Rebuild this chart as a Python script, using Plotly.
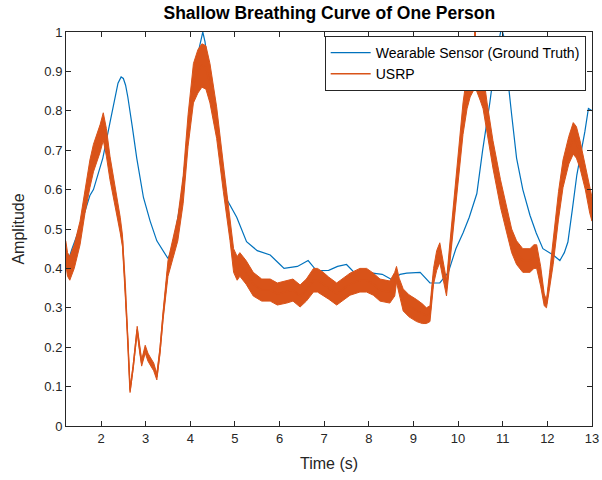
import plotly.graph_objects as go

# Wearable sensor (ground truth) breathing amplitude
sensor_t = [1.21, 1.35, 1.53, 1.75, 1.83, 2.04, 2.20, 2.30, 2.38, 2.45, 2.50, 2.55, 2.60,
            2.70, 2.80, 2.95, 3.10, 3.25, 3.50, 3.60, 3.80, 4.00, 4.10, 4.20, 4.28, 4.33,
            4.42, 4.55, 4.70, 4.82, 5.04, 5.26, 5.50, 5.79, 6.01, 6.10, 6.40, 6.64, 6.83,
            7.10, 7.30, 7.50, 7.73, 8.09, 8.30, 8.54, 8.70, 8.85, 9.15, 9.37, 9.59, 9.78,
            9.95, 10.11, 10.25, 10.42, 10.55, 10.71, 10.85, 10.93, 10.97, 11.02, 11.07,
            11.12, 11.20, 11.31, 11.45, 11.61, 11.75, 11.90, 12.13, 12.28, 12.38, 12.46,
            12.56, 12.66, 12.84, 12.92, 13.00]
sensor_amp = [0.40, 0.45, 0.505, 0.585, 0.60, 0.68, 0.77, 0.83, 0.87, 0.886, 0.882, 0.865,
              0.835, 0.76, 0.68, 0.58, 0.52, 0.47, 0.425, 0.45, 0.58, 0.80, 0.89, 0.96, 1.00,
              0.975, 0.89, 0.80, 0.68, 0.575, 0.53, 0.468, 0.445, 0.434, 0.41, 0.40, 0.405,
              0.42, 0.394, 0.395, 0.405, 0.41, 0.383, 0.388, 0.385, 0.37, 0.385, 0.388, 0.39,
              0.363, 0.363, 0.39, 0.45, 0.49, 0.53, 0.59, 0.70, 0.82, 0.94, 0.99, 1.01, 0.99,
              0.94, 0.874, 0.79, 0.68, 0.60, 0.535, 0.49, 0.45, 0.434, 0.42, 0.44, 0.467,
              0.55, 0.637, 0.747, 0.806, 0.80]

# USRP radar estimate: mean level and half-spread of its noise
usrp_t = [1.21, 1.25, 1.30, 1.40, 1.53, 1.64, 1.75, 1.83, 1.98, 2.05, 2.12, 2.20, 2.35,
          2.43, 2.48, 2.54, 2.60, 2.65, 2.72, 2.81, 2.86, 2.91, 2.99, 3.05, 3.10, 3.18,
          3.25, 3.32, 3.39, 3.50, 3.61, 3.72, 3.84, 3.95, 4.07, 4.17, 4.26, 4.35, 4.44,
          4.59, 4.74, 4.89, 4.97, 5.05, 5.11, 5.25, 5.41, 5.60, 5.79, 5.95, 6.16, 6.30,
          6.46, 6.60, 6.76, 6.85, 6.98, 7.10, 7.28, 7.45, 7.58, 7.80, 7.95, 8.10, 8.25,
          8.47, 8.58, 8.62, 8.68, 8.77, 8.90, 9.07, 9.20, 9.29, 9.37, 9.45, 9.52, 9.59,
          9.66, 9.74, 9.80, 9.89, 10.00, 10.11, 10.20, 10.27, 10.36, 10.38, 10.40, 10.50,
          10.56, 10.65, 10.78, 10.95, 11.09, 11.20, 11.31, 11.45, 11.61, 11.70, 11.76,
          11.85, 11.93, 11.98, 12.05, 12.13, 12.25, 12.35, 12.48, 12.58, 12.65, 12.73,
          12.85, 12.95, 13.00]
usrp_amp = [0.44, 0.41, 0.40, 0.43, 0.49, 0.57, 0.64, 0.68, 0.73, 0.76, 0.72, 0.655, 0.56,
            0.51, 0.47, 0.36, 0.22, 0.09, 0.15, 0.245, 0.20, 0.16, 0.195, 0.175, 0.165, 0.15,
            0.125, 0.19, 0.28, 0.40, 0.45, 0.50, 0.60, 0.75, 0.87, 0.90, 0.915, 0.91, 0.87,
            0.77, 0.63, 0.50, 0.42, 0.40, 0.41, 0.39, 0.36, 0.345, 0.345, 0.335, 0.34, 0.345,
            0.33, 0.345, 0.37, 0.37, 0.36, 0.35, 0.335, 0.35, 0.36, 0.37, 0.37, 0.36, 0.345,
            0.34, 0.36, 0.385, 0.355, 0.32, 0.305, 0.293, 0.285, 0.28, 0.285, 0.38, 0.42, 0.44,
            0.40, 0.35, 0.42, 0.52, 0.65, 0.78, 0.85, 0.88, 0.90, 1.00, 0.90, 0.87,
            0.85, 0.78, 0.69, 0.59, 0.52, 0.47, 0.44, 0.42, 0.42, 0.43, 0.43,
            0.38, 0.32, 0.31, 0.37, 0.44, 0.56, 0.64, 0.70, 0.73, 0.72, 0.69,
            0.63, 0.57, 0.55]
usrp_spread = [0.03, 0.03, 0.03, 0.03, 0.03, 0.03, 0.035, 0.035, 0.035, 0.035, 0.035, 0.03, 0.025,
               0.02, 0.015, 0.008, 0.005, 0.005, 0.005, 0.008, 0.008, 0.008, 0.01, 0.01, 0.01, 0.01,
               0.008, 0.008, 0.01, 0.02, 0.025, 0.03, 0.035, 0.04, 0.05, 0.055, 0.055, 0.055, 0.05,
               0.04, 0.035, 0.03, 0.03, 0.03, 0.03, 0.03, 0.03, 0.028, 0.028, 0.028, 0.028, 0.028,
               0.028, 0.028, 0.03, 0.03, 0.03, 0.028, 0.028, 0.028, 0.028, 0.03, 0.03, 0.028, 0.028,
               0.028, 0.03, 0.02, 0.02, 0.028, 0.028, 0.028, 0.025, 0.02, 0.02, 0.02, 0.025, 0.025,
               0.025, 0.02, 0.025, 0.03, 0.035, 0.04, 0.045, 0.045, 0.045, 0.0, 0.045, 0.045,
               0.045, 0.04, 0.035, 0.035, 0.03, 0.03, 0.03, 0.03, 0.03, 0.03, 0.03,
               0.025, 0.015, 0.01, 0.02, 0.03, 0.035, 0.035, 0.035, 0.04, 0.04, 0.035,
               0.03, 0.03, 0.03]

x_ticks = [2, 3, 4, 5, 6, 7, 8, 9, 10, 11, 12, 13]
y_ticks = [0, 0.1, 0.2, 0.3, 0.4, 0.5, 0.6, 0.7, 0.8, 0.9, 1]
y_tick_text = ["0", "0.1", "0.2", "0.3", "0.4", "0.5", "0.6", "0.7", "0.8", "0.9", "1"]

BLUE = "#0072BD"
ORANGE = "#D95319"
INK = "#262626"
FONT = "Liberation Sans, Arial, sans-serif"

upper = [a + s for a, s in zip(usrp_amp, usrp_spread)]
lower = [a - s for a, s in zip(usrp_amp, usrp_spread)]

fig = go.Figure()
fig.add_trace(go.Scatter(
    x=sensor_t, y=sensor_amp, mode="lines",
    name="Wearable Sensor (Ground Truth)",
    line=dict(color=BLUE, width=1.2),
))
# noise envelope of the USRP signal
fig.add_trace(go.Scatter(
    x=usrp_t + usrp_t[::-1], y=upper + lower[::-1],
    mode="lines", fill="toself", fillcolor=ORANGE,
    line=dict(color=ORANGE, width=1), showlegend=False, hoverinfo="skip",
))
fig.add_trace(go.Scatter(
    x=usrp_t, y=usrp_amp, mode="lines", name="USRP",
    line=dict(color=ORANGE, width=1.5),
))

axis_common = dict(
    showline=True, linecolor=INK, linewidth=1, mirror="ticks",
    ticks="inside", ticklen=5, tickwidth=1, tickcolor=INK,
    showgrid=False, zeroline=False, automargin=False,
    tickfont=dict(family=FONT, size=13, color=INK),
)

fig.update_layout(
    width=602, height=480,
    margin=dict(l=66, r=10, t=32, b=54),
    paper_bgcolor="white", plot_bgcolor="white",
    title=dict(text="<b>Shallow Breathing Curve of One Person</b>",
               x=0.547, xanchor="center", y=0.974, yanchor="middle",
               font=dict(family=FONT, size=17.5, color="black")),
    xaxis=dict(range=[1.215, 13], tickvals=x_ticks,
               title=dict(text="Time (s)", font=dict(family=FONT, size=16, color=INK),
                          standoff=13),
               **axis_common),
    yaxis=dict(range=[0, 1], tickvals=y_ticks, ticktext=y_tick_text,
               title=dict(text="Amplitude", font=dict(family=FONT, size=16, color=INK),
                          standoff=15),
               **axis_common),
    legend=dict(x=0.988, y=0.99, xanchor="right", yanchor="top",
                bgcolor="white", bordercolor=INK, borderwidth=1,
                font=dict(family=FONT, size=14, color="black"),
                tracegroupgap=0, itemwidth=40),
    showlegend=True,
)

fig.write_html("out.html")
